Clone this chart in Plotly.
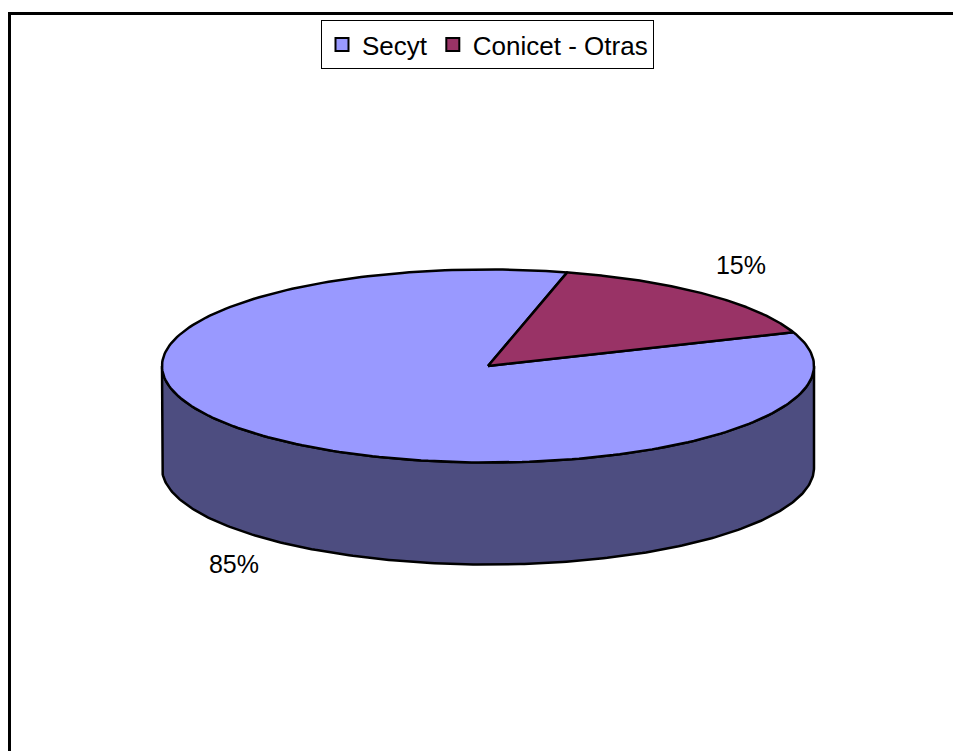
import numpy as np
import plotly.graph_objects as go

categories = ["Secyt", "Conicet - Otras"]
values = [84.6, 15.4]
colors = ["#9999FF", "#993366"]
side_color = "#4D4D80"

W, H = 953, 751
CX, CY, RX, RY, DEPTH = 488, 366, 326, 96.5, 102
FIRST_ANGLE = 69.5  # clockwise from 12 o'clock, where the first slice starts
FONT = "Liberation Sans"


def rim(a0, a1, dy=0.0, n=240):
    t = np.radians(np.linspace(a0, a1, n))
    return CX + RX * np.sin(t), CY - RY * np.cos(t) + dy


total = sum(values)
spans = [v / total * 360 for v in values]
fig = go.Figure()
line = dict(color="black", width=2.5)

# side wall (front half of the disc)
x1, y1 = rim(90, 270)
x2, y2 = rim(270, 90, DEPTH)
fig.add_trace(go.Scatter(
    x=np.r_[x1, x2, x1[0]], y=np.r_[y1, y2, y1[0]], mode="lines",
    fill="toself", fillcolor=side_color, line=line, showlegend=False, hoverinfo="skip"))

# top face slices
start = FIRST_ANGLE
for name, color, span in zip(categories, colors, spans):
    xs, ys = rim(start, start + span)
    fig.add_trace(go.Scatter(
        x=np.r_[CX, xs, CX], y=np.r_[CY, ys, CY], mode="lines", name=name,
        fill="toself", fillcolor=color, line=line, showlegend=False, hoverinfo="skip"))
    start += span

# legend entries
for name, color in zip(categories, colors):
    fig.add_trace(go.Scatter(
        x=[None], y=[None], mode="markers", name=name,
        marker=dict(symbol="square", size=13, color=color, line=dict(color="black", width=2))))

# percentage labels
label_pos = [(234, 567), (741, 268)]
fig.add_trace(go.Scatter(
    x=[p[0] for p in label_pos], y=[p[1] for p in label_pos], mode="text",
    text=[f"{round(v / total * 100)}%" for v in values],
    textposition="middle center",
    textfont=dict(family=FONT, size=25, color="black"),
    showlegend=False, hoverinfo="skip"))

# chart frame, cut off by the picture's right and bottom edges
fig.add_trace(go.Scatter(
    x=[9.5, 9.5, W], y=[H, 13.5, 13.5], mode="lines",
    line=dict(color="black", width=3), showlegend=False, hoverinfo="skip"))

fig.update_layout(
    width=W, height=H, margin=dict(l=0, r=0, t=0, b=0),
    paper_bgcolor="white", plot_bgcolor="white",
    xaxis=dict(range=[0, W], visible=False, fixedrange=True),
    yaxis=dict(range=[H, 0], visible=False, fixedrange=True),
    legend=dict(
        orientation="h", x=321 / W, y=1 - 20 / H, xanchor="left", yanchor="top",
        bordercolor="black", borderwidth=1, bgcolor="white",
        font=dict(family=FONT, size=26, color="black"),
        itemwidth=30, traceorder="normal"),
)
fig.write_html("out.html", config={"displayModeBar": False},
               post_script="document.body.style.margin='0';document.body.style.overflow='hidden';")
